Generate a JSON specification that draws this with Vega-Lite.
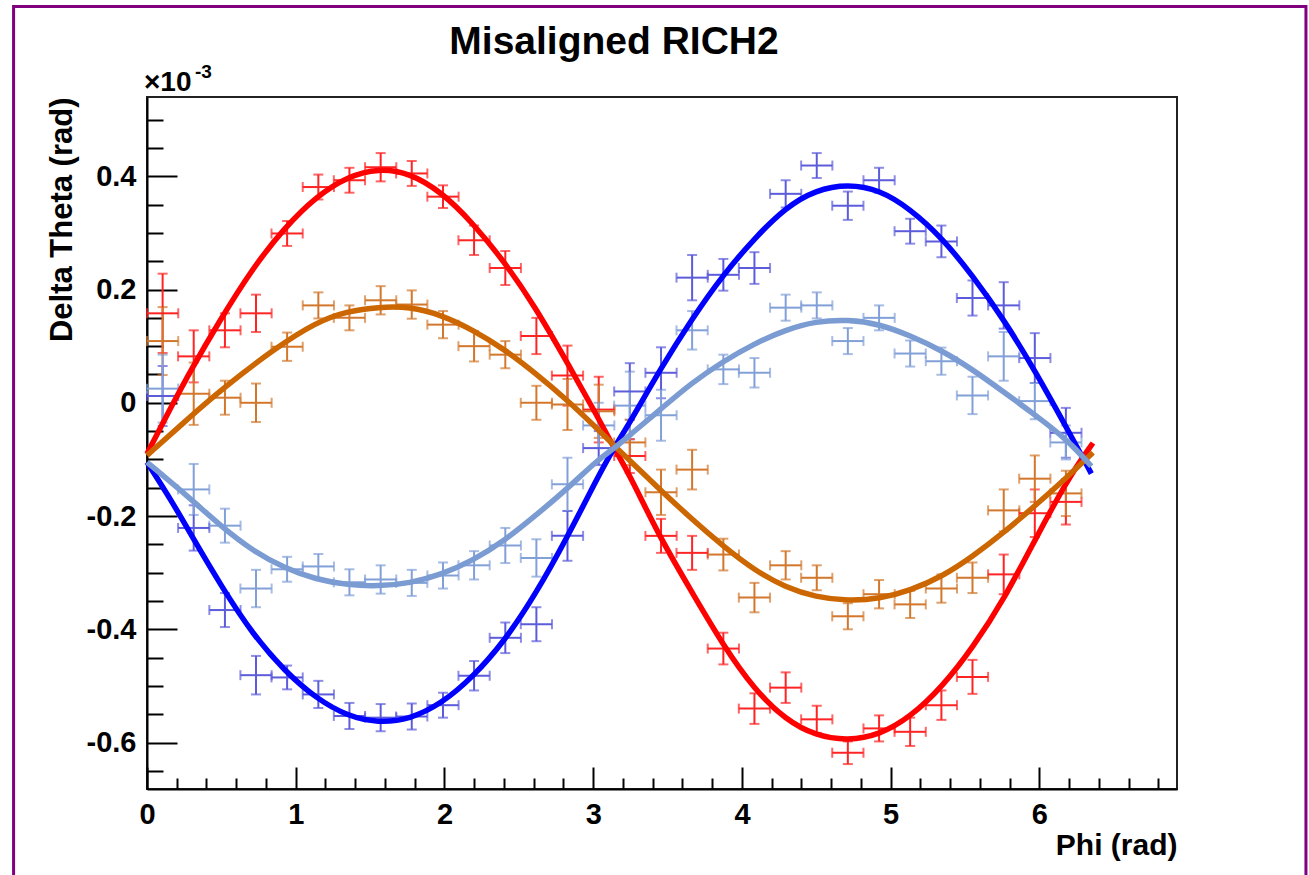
{
  "$schema": "https://vega.github.io/schema/vega-lite/v6.json",
  "width": 1030,
  "height": 692,
  "autosize": {"type": "none"},
  "padding": {"left": 147, "top": 97, "right": 132, "bottom": 86},
  "background": "white",
  "title": {"text": "Misaligned RICH2", "fontSize": 39, "font": "Liberation Sans", "fontWeight": "bold", "color": "black", "anchor": "middle", "baseline": "alphabetic", "offset": 0, "dx": -48, "dy": 88},
  "config": {
    "view": {"stroke": "#222222", "strokeWidth": 2},
    "axis": {"grid": false, "domainColor": "black", "domainWidth": 2, "tickColor": "black", "tickWidth": 2, "labelFont": "Liberation Sans", "labelFontWeight": "bold", "labelFontSize": 29, "labelColor": "black", "titleFont": "Liberation Sans", "titleFontWeight": "bold", "titleFontSize": 30, "titleColor": "black", "labelOverlap": false, "labelFlush": false}
  },
  "datasets": {
    "pts": [
      {"s":"r","phi":0.105,"dt":0.158,"err":0.07,"ex":0.105},
      {"s":"r","phi":0.314,"dt":0.082,"err":0.046,"ex":0.105},
      {"s":"r","phi":0.524,"dt":0.128,"err":0.03,"ex":0.105},
      {"s":"r","phi":0.733,"dt":0.158,"err":0.033,"ex":0.105},
      {"s":"r","phi":0.942,"dt":0.299,"err":0.022,"ex":0.105},
      {"s":"r","phi":1.152,"dt":0.381,"err":0.022,"ex":0.105},
      {"s":"r","phi":1.361,"dt":0.393,"err":0.022,"ex":0.105},
      {"s":"r","phi":1.571,"dt":0.416,"err":0.025,"ex":0.105},
      {"s":"r","phi":1.780,"dt":0.405,"err":0.022,"ex":0.105},
      {"s":"r","phi":1.990,"dt":0.364,"err":0.02,"ex":0.105},
      {"s":"r","phi":2.199,"dt":0.287,"err":0.026,"ex":0.105},
      {"s":"r","phi":2.409,"dt":0.238,"err":0.03,"ex":0.105},
      {"s":"r","phi":2.618,"dt":0.118,"err":0.032,"ex":0.105},
      {"s":"r","phi":2.827,"dt":0.048,"err":0.053,"ex":0.105},
      {"s":"r","phi":3.037,"dt":-0.012,"err":0.058,"ex":0.105},
      {"s":"r","phi":3.246,"dt":-0.094,"err":0.03,"ex":0.105},
      {"s":"r","phi":3.456,"dt":-0.235,"err":0.03,"ex":0.105},
      {"s":"r","phi":3.665,"dt":-0.265,"err":0.03,"ex":0.105},
      {"s":"r","phi":3.875,"dt":-0.434,"err":0.028,"ex":0.105},
      {"s":"r","phi":4.084,"dt":-0.540,"err":0.027,"ex":0.105},
      {"s":"r","phi":4.294,"dt":-0.503,"err":0.027,"ex":0.105},
      {"s":"r","phi":4.503,"dt":-0.559,"err":0.024,"ex":0.105},
      {"s":"r","phi":4.712,"dt":-0.618,"err":0.02,"ex":0.105},
      {"s":"r","phi":4.922,"dt":-0.575,"err":0.023,"ex":0.105},
      {"s":"r","phi":5.131,"dt":-0.581,"err":0.025,"ex":0.105},
      {"s":"r","phi":5.341,"dt":-0.534,"err":0.026,"ex":0.105},
      {"s":"r","phi":5.550,"dt":-0.484,"err":0.03,"ex":0.105},
      {"s":"r","phi":5.760,"dt":-0.303,"err":0.035,"ex":0.105},
      {"s":"r","phi":5.969,"dt":-0.195,"err":0.042,"ex":0.105},
      {"s":"r","phi":6.178,"dt":-0.175,"err":0.04,"ex":0.105},
      {"s":"o","phi":0.105,"dt":0.109,"err":0.06,"ex":0.105},
      {"s":"o","phi":0.314,"dt":0.016,"err":0.055,"ex":0.105},
      {"s":"o","phi":0.524,"dt":0.009,"err":0.03,"ex":0.105},
      {"s":"o","phi":0.733,"dt":0.0,"err":0.034,"ex":0.105},
      {"s":"o","phi":0.942,"dt":0.099,"err":0.025,"ex":0.105},
      {"s":"o","phi":1.152,"dt":0.172,"err":0.023,"ex":0.105},
      {"s":"o","phi":1.361,"dt":0.150,"err":0.022,"ex":0.105},
      {"s":"o","phi":1.571,"dt":0.181,"err":0.025,"ex":0.105},
      {"s":"o","phi":1.780,"dt":0.1735,"err":0.025,"ex":0.105},
      {"s":"o","phi":1.990,"dt":0.138,"err":0.024,"ex":0.105},
      {"s":"o","phi":2.199,"dt":0.100,"err":0.027,"ex":0.105},
      {"s":"o","phi":2.409,"dt":0.085,"err":0.024,"ex":0.105},
      {"s":"o","phi":2.618,"dt":0.0,"err":0.03,"ex":0.105},
      {"s":"o","phi":2.827,"dt":-0.003,"err":0.045,"ex":0.105},
      {"s":"o","phi":3.037,"dt":-0.015,"err":0.047,"ex":0.105},
      {"s":"o","phi":3.246,"dt":-0.07,"err":0.04,"ex":0.105},
      {"s":"o","phi":3.456,"dt":-0.158,"err":0.04,"ex":0.105},
      {"s":"o","phi":3.665,"dt":-0.118,"err":0.035,"ex":0.105},
      {"s":"o","phi":3.875,"dt":-0.268,"err":0.028,"ex":0.105},
      {"s":"o","phi":4.084,"dt":-0.344,"err":0.026,"ex":0.105},
      {"s":"o","phi":4.294,"dt":-0.287,"err":0.025,"ex":0.105},
      {"s":"o","phi":4.503,"dt":-0.309,"err":0.022,"ex":0.105},
      {"s":"o","phi":4.712,"dt":-0.377,"err":0.023,"ex":0.105},
      {"s":"o","phi":4.922,"dt":-0.338,"err":0.025,"ex":0.105},
      {"s":"o","phi":5.131,"dt":-0.356,"err":0.024,"ex":0.105},
      {"s":"o","phi":5.341,"dt":-0.328,"err":0.025,"ex":0.105},
      {"s":"o","phi":5.550,"dt":-0.309,"err":0.027,"ex":0.105},
      {"s":"o","phi":5.760,"dt":-0.190,"err":0.037,"ex":0.105},
      {"s":"o","phi":5.969,"dt":-0.134,"err":0.041,"ex":0.105},
      {"s":"o","phi":6.178,"dt":-0.16,"err":0.04,"ex":0.105},
      {"s":"b","phi":0.105,"dt":0.012,"err":0.053,"ex":0.105},
      {"s":"b","phi":0.314,"dt":-0.221,"err":0.04,"ex":0.105},
      {"s":"b","phi":0.524,"dt":-0.366,"err":0.03,"ex":0.105},
      {"s":"b","phi":0.733,"dt":-0.481,"err":0.034,"ex":0.105},
      {"s":"b","phi":0.942,"dt":-0.485,"err":0.021,"ex":0.105},
      {"s":"b","phi":1.152,"dt":-0.515,"err":0.024,"ex":0.105},
      {"s":"b","phi":1.361,"dt":-0.553,"err":0.023,"ex":0.105},
      {"s":"b","phi":1.571,"dt":-0.556,"err":0.024,"ex":0.105},
      {"s":"b","phi":1.780,"dt":-0.554,"err":0.023,"ex":0.105},
      {"s":"b","phi":1.990,"dt":-0.534,"err":0.022,"ex":0.105},
      {"s":"b","phi":2.199,"dt":-0.482,"err":0.026,"ex":0.105},
      {"s":"b","phi":2.409,"dt":-0.415,"err":0.027,"ex":0.105},
      {"s":"b","phi":2.618,"dt":-0.391,"err":0.03,"ex":0.105},
      {"s":"b","phi":2.827,"dt":-0.235,"err":0.044,"ex":0.105},
      {"s":"b","phi":3.037,"dt":-0.08,"err":0.03,"ex":0.105},
      {"s":"b","phi":3.246,"dt":0.02,"err":0.05,"ex":0.105},
      {"s":"b","phi":3.456,"dt":0.053,"err":0.045,"ex":0.105},
      {"s":"b","phi":3.665,"dt":0.221,"err":0.04,"ex":0.105},
      {"s":"b","phi":3.875,"dt":0.226,"err":0.028,"ex":0.105},
      {"s":"b","phi":4.084,"dt":0.238,"err":0.028,"ex":0.105},
      {"s":"b","phi":4.294,"dt":0.369,"err":0.024,"ex":0.105},
      {"s":"b","phi":4.503,"dt":0.419,"err":0.022,"ex":0.105},
      {"s":"b","phi":4.712,"dt":0.348,"err":0.025,"ex":0.105},
      {"s":"b","phi":4.922,"dt":0.393,"err":0.022,"ex":0.105},
      {"s":"b","phi":5.131,"dt":0.303,"err":0.022,"ex":0.105},
      {"s":"b","phi":5.341,"dt":0.285,"err":0.028,"ex":0.105},
      {"s":"b","phi":5.550,"dt":0.185,"err":0.031,"ex":0.105},
      {"s":"b","phi":5.760,"dt":0.172,"err":0.041,"ex":0.105},
      {"s":"b","phi":5.969,"dt":0.079,"err":0.044,"ex":0.105},
      {"s":"b","phi":6.178,"dt":-0.053,"err":0.044,"ex":0.105},
      {"s":"l","phi":0.105,"dt":0.025,"err":0.06,"ex":0.105},
      {"s":"l","phi":0.314,"dt":-0.153,"err":0.045,"ex":0.105},
      {"s":"l","phi":0.524,"dt":-0.217,"err":0.03,"ex":0.105},
      {"s":"l","phi":0.733,"dt":-0.328,"err":0.033,"ex":0.105},
      {"s":"l","phi":0.942,"dt":-0.294,"err":0.022,"ex":0.105},
      {"s":"l","phi":1.152,"dt":-0.289,"err":0.022,"ex":0.105},
      {"s":"l","phi":1.361,"dt":-0.317,"err":0.023,"ex":0.105},
      {"s":"l","phi":1.571,"dt":-0.312,"err":0.025,"ex":0.105},
      {"s":"l","phi":1.780,"dt":-0.318,"err":0.023,"ex":0.105},
      {"s":"l","phi":1.990,"dt":-0.305,"err":0.023,"ex":0.105},
      {"s":"l","phi":2.199,"dt":-0.287,"err":0.025,"ex":0.105},
      {"s":"l","phi":2.409,"dt":-0.252,"err":0.031,"ex":0.105},
      {"s":"l","phi":2.618,"dt":-0.274,"err":0.033,"ex":0.105},
      {"s":"l","phi":2.827,"dt":-0.144,"err":0.047,"ex":0.105},
      {"s":"l","phi":3.037,"dt":-0.04,"err":0.04,"ex":0.105},
      {"s":"l","phi":3.246,"dt":-0.005,"err":0.06,"ex":0.105},
      {"s":"l","phi":3.456,"dt":-0.022,"err":0.045,"ex":0.105},
      {"s":"l","phi":3.665,"dt":0.128,"err":0.034,"ex":0.105},
      {"s":"l","phi":3.875,"dt":0.059,"err":0.026,"ex":0.105},
      {"s":"l","phi":4.084,"dt":0.053,"err":0.026,"ex":0.105},
      {"s":"l","phi":4.294,"dt":0.168,"err":0.023,"ex":0.105},
      {"s":"l","phi":4.503,"dt":0.172,"err":0.023,"ex":0.105},
      {"s":"l","phi":4.712,"dt":0.109,"err":0.023,"ex":0.105},
      {"s":"l","phi":4.922,"dt":0.150,"err":0.022,"ex":0.105},
      {"s":"l","phi":5.131,"dt":0.087,"err":0.023,"ex":0.105},
      {"s":"l","phi":5.341,"dt":0.0735,"err":0.024,"ex":0.105},
      {"s":"l","phi":5.550,"dt":0.013,"err":0.033,"ex":0.105},
      {"s":"l","phi":5.760,"dt":0.082,"err":0.043,"ex":0.105},
      {"s":"l","phi":5.969,"dt":0.003,"err":0.032,"ex":0.105},
      {"s":"l","phi":6.178,"dt":-0.07,"err":0.03,"ex":0.105}
    ],
    "fits": [
      {"s":"r","phi":0,"dt":-0.09},{"s":"r","phi":0.177,"dt":0.0},{"s":"r","phi":0.289,"dt":0.055},{"s":"r","phi":0.484,"dt":0.143},{"s":"r","phi":0.708,"dt":0.237},{"s":"r","phi":0.921,"dt":0.308},{"s":"r","phi":1.140,"dt":0.365},{"s":"r","phi":1.353,"dt":0.400},{"s":"r","phi":1.554,"dt":0.414},{"s":"r","phi":1.767,"dt":0.406},{"s":"r","phi":1.981,"dt":0.372},{"s":"r","phi":2.189,"dt":0.318},{"s":"r","phi":2.406,"dt":0.248},{"s":"r","phi":2.608,"dt":0.170},{"s":"r","phi":2.821,"dt":0.073},{"s":"r","phi":3.033,"dt":-0.026},{"s":"r","phi":3.134,"dt":-0.077},{"s":"r","phi":3.246,"dt":-0.128},{"s":"r","phi":3.448,"dt":-0.238},{"s":"r","phi":3.661,"dt":-0.333},{"s":"r","phi":3.873,"dt":-0.428},{"s":"r","phi":4.086,"dt":-0.507},{"s":"r","phi":4.294,"dt":-0.560},{"s":"r","phi":4.496,"dt":-0.588},{"s":"r","phi":4.713,"dt":-0.597},{"s":"r","phi":4.926,"dt":-0.586},{"s":"r","phi":5.128,"dt":-0.556},{"s":"r","phi":5.352,"dt":-0.500},{"s":"r","phi":5.553,"dt":-0.432},{"s":"r","phi":5.766,"dt":-0.345},{"s":"r","phi":5.979,"dt":-0.238},{"s":"r","phi":6.191,"dt":-0.134},{"s":"r","phi":6.36,"dt":-0.071},
      {"s":"b","phi":0,"dt":-0.105},{"s":"b","phi":0.177,"dt":-0.178},{"s":"b","phi":0.30,"dt":-0.235},{"s":"b","phi":0.502,"dt":-0.325},{"s":"b","phi":0.714,"dt":-0.410},{"s":"b","phi":0.927,"dt":-0.474},{"s":"b","phi":1.136,"dt":-0.522},{"s":"b","phi":1.353,"dt":-0.554},{"s":"b","phi":1.554,"dt":-0.565},{"s":"b","phi":1.767,"dt":-0.559},{"s":"b","phi":1.981,"dt":-0.531},{"s":"b","phi":2.189,"dt":-0.485},{"s":"b","phi":2.406,"dt":-0.420},{"s":"b","phi":2.608,"dt":-0.340},{"s":"b","phi":2.821,"dt":-0.240},{"s":"b","phi":3.033,"dt":-0.130},{"s":"b","phi":3.134,"dt":-0.082},{"s":"b","phi":3.246,"dt":-0.035},{"s":"b","phi":3.459,"dt":0.063},{"s":"b","phi":3.661,"dt":0.147},{"s":"b","phi":3.873,"dt":0.226},{"s":"b","phi":4.086,"dt":0.291},{"s":"b","phi":4.294,"dt":0.345},{"s":"b","phi":4.496,"dt":0.376},{"s":"b","phi":4.713,"dt":0.386},{"s":"b","phi":4.926,"dt":0.376},{"s":"b","phi":5.128,"dt":0.343},{"s":"b","phi":5.347,"dt":0.291},{"s":"b","phi":5.549,"dt":0.225},{"s":"b","phi":5.766,"dt":0.145},{"s":"b","phi":5.974,"dt":0.055},{"s":"b","phi":6.191,"dt":-0.048},{"s":"b","phi":6.349,"dt":-0.125},
      {"s":"o","phi":0,"dt":-0.093},{"s":"o","phi":0.289,"dt":-0.025},{"s":"o","phi":0.513,"dt":0.026},{"s":"o","phi":0.849,"dt":0.094},{"s":"o","phi":1.140,"dt":0.143},{"s":"o","phi":1.353,"dt":0.162},{"s":"o","phi":1.554,"dt":0.169},{"s":"o","phi":1.767,"dt":0.170},{"s":"o","phi":1.981,"dt":0.155},{"s":"o","phi":2.189,"dt":0.129},{"s":"o","phi":2.406,"dt":0.094},{"s":"o","phi":2.608,"dt":0.053},{"s":"o","phi":2.821,"dt":0.006},{"s":"o","phi":3.033,"dt":-0.047},{"s":"o","phi":3.134,"dt":-0.074},{"s":"o","phi":3.448,"dt":-0.153},{"s":"o","phi":3.661,"dt":-0.205},{"s":"o","phi":3.873,"dt":-0.253},{"s":"o","phi":4.086,"dt":-0.296},{"s":"o","phi":4.294,"dt":-0.326},{"s":"o","phi":4.496,"dt":-0.343},{"s":"o","phi":4.713,"dt":-0.350},{"s":"o","phi":4.926,"dt":-0.346},{"s":"o","phi":5.128,"dt":-0.332},{"s":"o","phi":5.352,"dt":-0.306},{"s":"o","phi":5.553,"dt":-0.271},{"s":"o","phi":5.766,"dt":-0.228},{"s":"o","phi":5.979,"dt":-0.180},{"s":"o","phi":6.191,"dt":-0.130},{"s":"o","phi":6.36,"dt":-0.088},
      {"s":"l","phi":0,"dt":-0.105},{"s":"l","phi":0.30,"dt":-0.171},{"s":"l","phi":0.502,"dt":-0.219},{"s":"l","phi":0.714,"dt":-0.262},{"s":"l","phi":0.927,"dt":-0.292},{"s":"l","phi":1.136,"dt":-0.312},{"s":"l","phi":1.353,"dt":-0.322},{"s":"l","phi":1.554,"dt":-0.324},{"s":"l","phi":1.767,"dt":-0.319},{"s":"l","phi":1.981,"dt":-0.303},{"s":"l","phi":2.189,"dt":-0.279},{"s":"l","phi":2.406,"dt":-0.243},{"s":"l","phi":2.608,"dt":-0.200},{"s":"l","phi":2.821,"dt":-0.153},{"s":"l","phi":3.033,"dt":-0.100},{"s":"l","phi":3.134,"dt":-0.082},{"s":"l","phi":3.246,"dt":-0.057},{"s":"l","phi":3.459,"dt":-0.010},{"s":"l","phi":3.661,"dt":0.035},{"s":"l","phi":3.873,"dt":0.073},{"s":"l","phi":4.086,"dt":0.105},{"s":"l","phi":4.294,"dt":0.129},{"s":"l","phi":4.496,"dt":0.144},{"s":"l","phi":4.713,"dt":0.147},{"s":"l","phi":4.926,"dt":0.139},{"s":"l","phi":5.128,"dt":0.119},{"s":"l","phi":5.347,"dt":0.092},{"s":"l","phi":5.549,"dt":0.059},{"s":"l","phi":5.766,"dt":0.018},{"s":"l","phi":5.974,"dt":-0.022},{"s":"l","phi":6.191,"dt":-0.066},{"s":"l","phi":6.349,"dt":-0.112}
    ]
  },
  "layer": [
    {
      "data": {"values": [{}]},
      "mark": {"type": "rect", "filled": false, "stroke": "#800080", "strokeWidth": 3},
      "encoding": {
        "x": {"datum": -0.897, "type": "quantitative", "scale": {"domain": [0, 6.925], "nice": false, "zero": false}, "axis": null},
        "x2": {"datum": 7.792},
        "y": {"datum": 0.700, "type": "quantitative", "scale": {"domain": [-0.682, 0.54], "nice": false, "zero": false}, "axis": null},
        "y2": {"datum": -0.95}
      }
    },
    {
      "data": {"name": "pts"},
      "mark": {"type": "errorbar", "ticks": true, "size": 10, "thickness": 2},
      "encoding": {
        "x": {"field": "phi", "type": "quantitative", "scale": {"domain": [0, 6.925], "nice": false, "zero": false}, "axis": null},
        "y": {"field": "dt", "type": "quantitative", "scale": {"domain": [-0.682, 0.54], "nice": false, "zero": false}, "axis": null},
        "yError": {"field": "err"},
        "color": {"field": "s", "type": "nominal", "legend": null,
          "scale": {"domain": ["r", "o", "b", "l"], "range": ["#ff2424", "#d2772c", "#5c5cdb", "#82a0d8"]}}
      }
    },
    {
      "data": {"name": "pts"},
      "mark": {"type": "errorbar", "ticks": true, "size": 10, "thickness": 2},
      "encoding": {
        "x": {"field": "phi", "type": "quantitative", "scale": {"domain": [0, 6.925], "nice": false, "zero": false}, "axis": null},
        "xError": {"field": "ex"},
        "y": {"field": "dt", "type": "quantitative", "scale": {"domain": [-0.682, 0.54], "nice": false, "zero": false}, "axis": null},
        "color": {"field": "s", "type": "nominal", "legend": null,
          "scale": {"domain": ["r", "o", "b", "l"], "range": ["#ff2424", "#d2772c", "#5c5cdb", "#82a0d8"]}}
      }
    },
    {
      "data": {"name": "fits"},
      "mark": {"type": "line", "strokeWidth": 5.5, "interpolate": "basis"},
      "encoding": {
        "x": {"field": "phi", "type": "quantitative", "scale": {"domain": [0, 6.925], "nice": false, "zero": false},
          "title": "Phi (rad)",
          "axis": {
            "orient": "bottom",
            "values": [0,1,2,3,4,5,6],
            "format": "d",
            "tickSize": -22,
            "labelPadding": 33,
            "titleAnchor": "end",
            "titlePadding": 1
          }
        },
        "y": {"field": "dt", "type": "quantitative", "scale": {"domain": [-0.682, 0.54], "nice": false, "zero": false},
          "title": "Delta Theta (rad)",
          "axis": {
            "orient": "left",
            "values": [-0.6,-0.4,-0.2,0,0.2,0.4],
            "labelExpr": "'' + datum.value",
            "tickSize": -30,
            "labelPadding": 41,
            "titleAnchor": "end",
            "titleFontSize": 31,
            "titlePadding": 8
          }
        },
        "color": {"field": "s", "type": "nominal", "legend": null, "sort": null,
          "scale": {"domain": ["r", "b", "o", "l"], "range": ["#ff0000", "#0000ff", "#cc6600", "#7b9bd3"]}}
      }
    },
    {
      "data": {"values": [{}]},
      "mark": {"type": "text", "text": "×10", "align": "left", "baseline": "alphabetic", "font": "Liberation Sans", "fontWeight": "bold", "fontSize": 28, "color": "black", "dx": -3, "dy": -6},
      "encoding": {
        "x": {"datum": 0, "type": "quantitative", "scale": {"domain": [0, 6.925], "nice": false, "zero": false},
          "axis": {"orient": "bottom", "title": null, "labels": false, "domain": false, "tickSize": -11,
            "values": [0.2,0.4,0.6,0.8,1.2,1.4,1.6,1.8,2.2,2.4,2.6,2.8,3.2,3.4,3.6,3.8,4.2,4.4,4.6,4.8,5.2,5.4,5.6,5.8,6.2,6.4,6.6,6.8]}},
        "y": {"datum": 0.54, "type": "quantitative", "scale": {"domain": [-0.682, 0.54], "nice": false, "zero": false},
          "axis": {"orient": "left", "title": null, "labels": false, "domain": false, "tickSize": -16,
            "values": [-0.65,-0.55,-0.5,-0.45,-0.35,-0.3,-0.25,-0.15,-0.1,-0.05,0.05,0.1,0.15,0.25,0.3,0.35,0.45,0.5]}}
      }
    },
    {
      "data": {"values": [{}]},
      "mark": {"type": "text", "text": "-3", "align": "left", "baseline": "alphabetic", "font": "Liberation Sans", "fontWeight": "bold", "fontSize": 19, "color": "black", "dx": 48, "dy": -19},
      "encoding": {
        "x": {"datum": 0, "type": "quantitative", "scale": {"domain": [0, 6.925], "nice": false, "zero": false}, "axis": null},
        "y": {"datum": 0.54, "type": "quantitative", "scale": {"domain": [-0.682, 0.54], "nice": false, "zero": false}, "axis": null}
      }
    }
  ],
  "resolve": {"scale": {"color": "independent"}, "axis": {"x": "independent", "y": "independent"}}
}
